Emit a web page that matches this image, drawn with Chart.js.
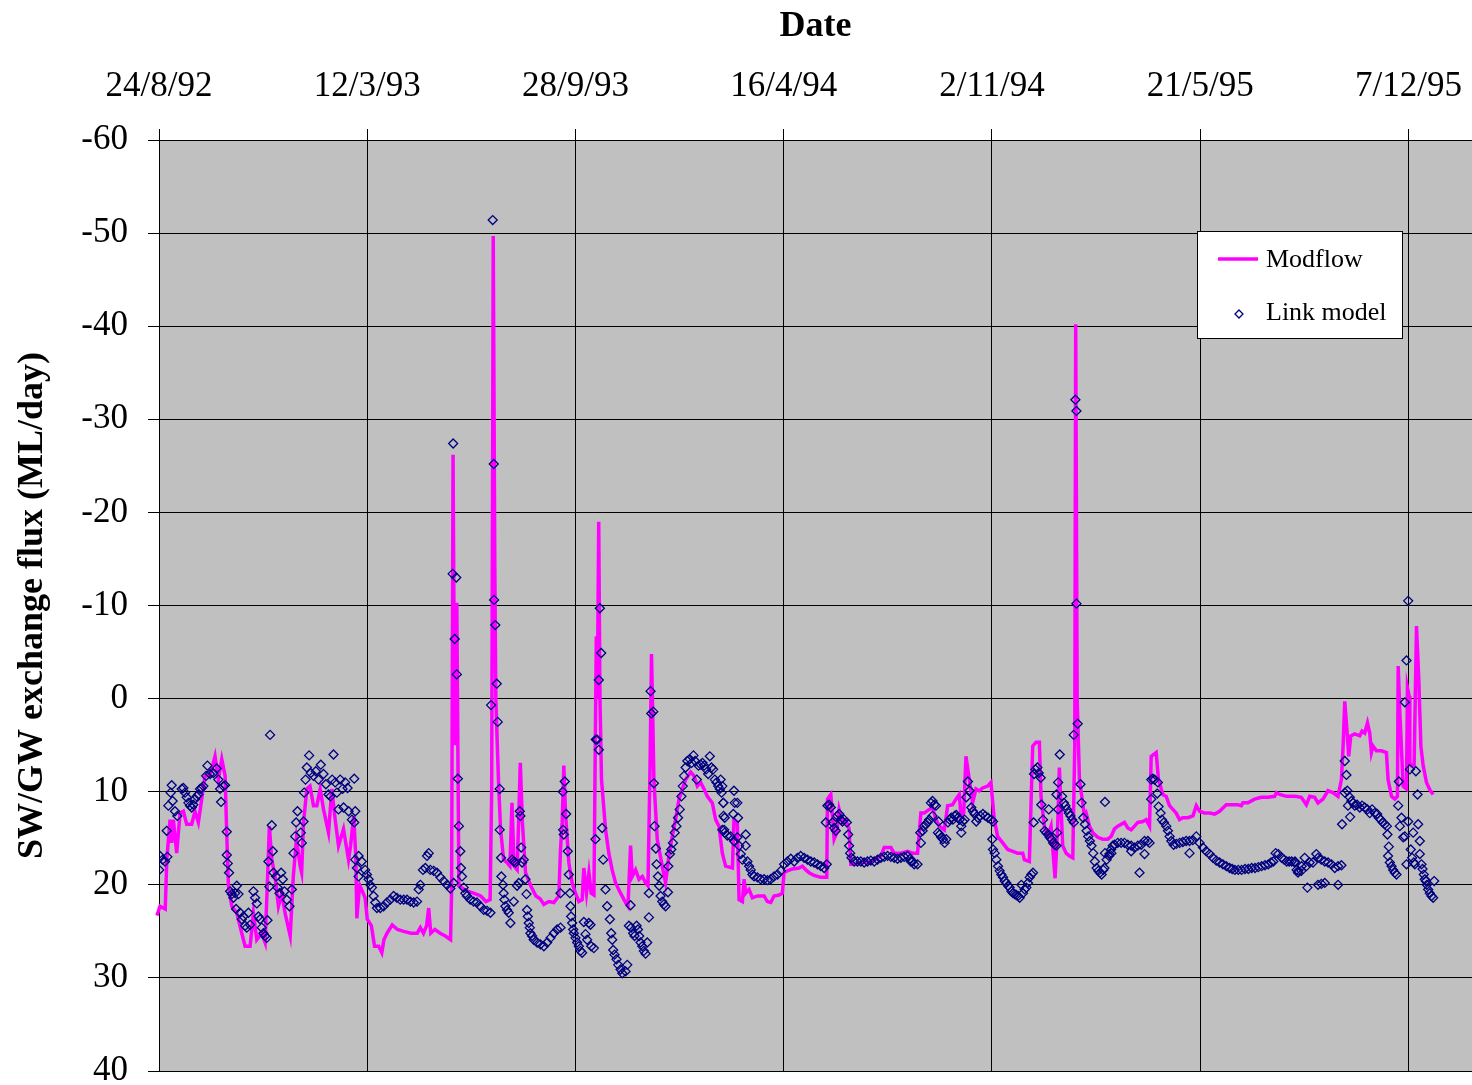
<!DOCTYPE html>
<html>
<head>
<meta charset="utf-8">
<title>SW/GW exchange flux</title>
<script src="https://cdn.jsdelivr.net/npm/chart.js@4.4.1/dist/chart.umd.min.js"></script>
<style>
  html, body { margin: 0; padding: 0; background: #fff; overflow: hidden; }
  #wrap { width: 1520px; height: 1120px; }
</style>
</head>
<body>
<div id="wrap"><canvas id="flux-chart" width="1520" height="1120"></canvas></div>
<script>
// x values are days counted from 24/8/92, y values are ML/day (positive = down on the axis)
const xTickDays = [0, 200, 400, 600, 800, 1000, 1200];
const xTickLabels = ['24/8/92', '12/3/93', '28/9/93', '16/4/94', '2/11/94', '21/5/95', '7/12/95'];
const xMaxDay = 1261;
const yMin = -60, yMax = 40, yStep = 10;

// Modflow: [day, flux]
const modflow = [
  [-5, 23.0], [-4, 24.3], [-2, 23.3], [1, 22.3], [6, 22.6], [7.5, 17.3], [10.6, 13], [12.2, 15.5], [13.8, 13],
  [17, 16.6], [20.2, 12.3], [23.4, 12.1], [26.6, 13.5], [31.4, 13.5], [34.6, 12.1], [37.8, 13.3], [41, 10.8],
  [44.2, 8.3], [49, 8.3], [53.8, 6.2], [57, 8.7], [60.3, 6.5], [63.5, 8.3], [65, 14.4], [66.7, 20.1], [69.9, 22.3],
  [74.7, 23], [79.5, 25.2], [82.7, 26.6], [87.5, 26.6], [90.7, 23], [93.9, 25.9], [98.7, 25.2], [101.9, 26.2],
  [104, 20.1], [106, 13.7], [108.3, 17.3], [111.5, 19.1], [114.7, 22.3], [117.9, 20.9], [121, 23], [126, 25.5],
  [129, 19.1], [132, 15.1], [135.6, 18], [137, 18.7], [138.8, 13.3], [142, 9.7], [145, 9.4], [148.4, 11.5],
  [151.6, 11.5], [154.8, 9.7], [158, 11.9], [162.8, 14.4], [166, 9.7], [169.2, 13], [172.4, 15.8], [177.2, 14],
  [182, 17.3], [184, 15.8], [187, 12.6], [189, 16.9], [190, 23.6], [192, 20.9], [193, 20.1], [198, 21.4],
  [200, 23.7], [204, 24.4], [207, 26.6], [211, 26.6], [214, 27.3], [216, 25.9], [219, 25.2], [224, 24.3],
  [229, 24.8], [235, 25], [242, 25.2], [248, 25.2], [251, 24.6], [254, 25.2], [257, 24.4], [259, 22.5],
  [261, 25.2], [265, 24.8], [270, 25.2], [275, 25.5], [280, 25.9], [281, 20.9], [282.4, -26.2], [284, 5],
  [286, -10.3], [288, 20.1], [293, 20.5], [297, 20.7], [302, 20.9], [309, 21.2], [314, 21.8], [318, 21.6],
  [319.5, 10], [321, -49.7], [322.5, -14.2], [323.5, 0], [326, 8.7], [328, 14], [331, 17.3], [334, 17.6],
  [337, 18], [339, 11.2], [341, 18], [344, 18.4], [347, 6.9], [349, 13.3], [352, 18.7], [357, 20.1],
  [362, 21.2], [366, 21.5], [369.6, 22.1], [374.4, 21.8], [379.2, 21.9], [384, 21.2], [385.6, 16.2],
  [387.2, 13.3], [388.8, 7.2], [390.4, 12.3], [393.6, 17.6], [396.8, 19.8], [400, 20.9], [403.2, 21.8],
  [406.4, 21.6], [408, 18.2], [410.6, 20.9], [412.9, 18.7], [415.1, 20.9], [417.7, 21.1], [418.6, 10],
  [420, -6.7], [421, 0], [422.3, -19], [423.5, 0], [425, 8.7], [428.8, 14], [432, 16.6], [435.2, 18.4],
  [438.5, 19.8], [443.3, 20.9], [448.1, 21.9], [450.4, 22.3], [452.9, 15.8], [454.5, 19.1], [457.7, 18.4],
  [461, 19.4], [464.2, 19.1], [467.4, 19.8], [469.6, 20.1], [471.5, 8], [473, -4.8], [474.2, 2], [475.3, 8.7],
  [478.5, 15.1], [483.3, 18], [486.5, 19.8], [489.7, 16.9], [492.9, 14.8], [496.1, 13], [499.4, 10.8],
  [502.6, 9.7], [505.8, 8.7], [510.6, 7.9], [513.8, 8.3], [517, 9.4], [520.2, 9], [523.4, 9.7], [526.6, 10.5],
  [531.4, 11.2], [534.6, 13], [537.8, 13.7], [541, 16.6], [544.2, 18], [550.7, 18.2], [552.2, 13],
  [555.4, 13.3], [557.1, 21.6], [560.3, 21.8], [561.9, 19.4], [563.5, 20.9], [566.7, 20.5], [569.9, 21.4],
  [574.7, 21.2], [581.1, 21.2], [584.3, 21.8], [587.5, 21.9], [590.7, 21.2], [595.5, 21.1], [598.7, 20.9],
  [600.3, 18.7], [603.5, 18.5], [608.3, 18.3], [614.7, 18.2], [617.9, 18], [621.2, 18.4], [624.4, 18.7],
  [629.2, 19], [635.6, 19.2], [641.3, 19.2], [642, 10.8], [645.2, 10.3], [648.4, 15.1], [651, 14.4],
  [653.2, 11.9], [656.4, 13.3], [659.6, 13], [662.8, 14], [664.4, 17.8], [667.6, 17.8], [674, 17.6],
  [683.7, 17.5], [693.3, 16.9], [696.5, 16], [702.9, 16], [706.1, 16.6], [712.5, 16.6], [718.9, 16.4],
  [723.7, 16.6], [728.5, 16.6], [731.7, 12.3], [734.9, 12.3], [739.7, 11.9], [742.9, 11.7], [746.2, 13],
  [749.4, 13.7], [754.2, 14.1], [757.4, 11.5], [762.2, 11.4], [765.4, 10.8], [768.6, 10.3], [770.2, 12.6],
  [772.8, 12.3], [775, 6.2], [778.2, 8.7], [781.4, 11.2], [784.6, 9.7], [787.8, 9.9], [791, 9.6],
  [795.8, 9.4], [799, 9], [802.2, 13], [805.4, 14.8], [810.3, 15.5], [815.1, 16.2], [819.9, 16.4],
  [824.7, 16.6], [829.5, 16.6], [831.1, 17.3], [835.9, 17.5], [839.1, 5.1], [842.3, 4.7], [845.5, 4.7],
  [847.1, 10.5], [850.3, 13.7], [853.5, 14.8], [856.7, 13.7], [860.6, 19.3], [863.1, 13.7], [864.7, 7.4],
  [867.9, 15.8], [871.2, 16.6], [874.4, 16.9], [877.6, 17.1], [879.5, 5], [880.4, -40.2], [881.8, 0],
  [884, 8.7], [888.8, 12.6], [890.4, 12.3], [893.6, 13.7], [896.8, 14.4], [901.6, 14.9], [906.4, 15.1],
  [911.2, 15.1], [914.4, 14.8], [917.6, 14], [920.8, 13.7], [927.2, 13.3], [930.4, 13.9], [933.7, 14.1],
  [936.9, 13.7], [940.1, 13.3], [944.9, 13.2], [948.1, 13], [951.3, 13.7], [952.9, 6.2], [957.7, 5.8],
  [959.9, 8.7], [964.1, 10.3], [967.3, 10.5], [970.5, 11.5], [973.7, 11.9], [976.9, 12.3], [980.1, 13],
  [983.3, 12.8], [988.1, 12.8], [993, 12.6], [996.2, 11.5], [999.4, 12.1], [1004.2, 12.3], [1009, 12.3],
  [1013.8, 12.4], [1018.6, 12.1], [1025, 11.4], [1029.8, 11.4], [1036.2, 11.4], [1039.4, 11.5], [1041, 11.2],
  [1045.8, 11.2], [1052.2, 10.8], [1058.7, 10.6], [1065.1, 10.6], [1071.5, 10.5], [1073.1, 10.1],
  [1076.3, 10.3], [1082.7, 10.5], [1090.7, 10.5], [1097.1, 10.6], [1101.9, 11.4], [1105.1, 10.5],
  [1109.9, 10.6], [1113.1, 11.2], [1117.9, 10.8], [1122.7, 9.9], [1127.5, 10.1], [1132.3, 10.5],
  [1135.6, 8.7], [1137.2, 5.1], [1138.8, 0.3], [1141.3, 4], [1142.6, 6.2], [1144.6, 4], [1148.4, 3.8],
  [1153.2, 4], [1155.4, 3.5], [1158, 3.7], [1160.6, 2.6], [1162.8, 3.7], [1164.4, 5.8], [1166, 5.1],
  [1169.2, 5.6], [1174, 5.6], [1178.8, 5.8], [1180.4, 8.7], [1183.7, 10.5], [1186.9, 10.8], [1189.4, 10.5],
  [1190.1, -3.5], [1191.7, 1.5], [1194.9, 9.4], [1198.1, 9.7], [1199, -1.2], [1200.6, -0.3], [1201.3, 6.9],
  [1202.9, 7.2], [1205.4, 7.2], [1207.7, -7.8], [1209.9, -2.1], [1211.9, 5.1], [1214.1, 7.2], [1217.3, 9],
  [1220.5, 9.8], [1223.7, 10.3]
];

// Link model: [day, flux]
const linkModel = [
  [0.3, 18.4], [1, 16.9], [3.5, 17.3], [5.8, 17.5], [8, 17], [7.4, 14.2], [9, 11.5], [11.2, 10.1], [12.2, 9.3],
  [13.1, 11], [15.4, 12.1], [17.6, 12.6], [21.8, 9.7], [23.4, 9.6], [25, 10.1], [26.6, 10.6], [28.2, 11.2],
  [29.8, 11.5], [31.4, 11.7], [33, 11.4], [34.6, 10.8], [36.2, 10.5], [37.8, 10.3], [39.4, 9.7], [41, 9.6],
  [42.6, 9.4], [45.2, 8.3], [46.5, 7.2], [49, 8.1], [52.2, 8], [55.4, 7.5], [57, 8.7], [58.7, 9.7], [59.6, 11.1],
  [61.9, 9.4], [63.5, 9.3], [65.1, 14.3], [65.1, 16.8], [66, 17.7], [67.3, 18.7], [68.3, 20.7], [69.9, 21],
  [71.5, 21.4], [73.1, 20.9], [74.7, 20.1], [76.3, 21], [74, 22.6], [77.9, 23], [79.5, 23.7], [81.1, 23.4],
  [82.7, 24.4], [84.3, 24.6], [85.9, 23], [87.5, 24.3], [90.7, 20.7], [92.3, 21.4], [93.9, 22], [95.5, 23.4],
  [97.1, 23.7], [98.7, 24.6], [100.3, 25.2], [101.9, 25.5], [103.5, 25.7], [104.2, 23.8], [105.1, 17.5],
  [106.7, 3.9], [106, 20.2], [108.3, 13.6], [109.3, 16.4], [109.9, 18.7], [112.5, 19.1], [113.8, 20.3],
  [115.7, 20.9], [117.3, 18.7], [118.9, 19.4], [120.5, 20.7], [122.8, 21.6], [125.3, 22.3], [127.6, 20.5],
  [129.2, 16.6], [130.8, 14.8], [131.7, 13.3], [133, 12.1], [136.2, 14.4], [137.2, 15.5], [138.8, 13.2],
  [139.4, 10.1], [140.7, 8.7], [142, 7.4], [144.2, 6.1], [145.8, 8], [148.4, 8.3], [150.6, 7.8], [153.2, 8.7],
  [155.4, 7.1], [158, 8.1], [160.3, 9.2], [162.8, 10.3], [164.7, 10.5], [166.3, 8.7], [167.6, 6], [169.2, 9],
  [170.8, 10.1], [172.4, 11.9], [174, 8.7], [176.3, 9.7], [178.8, 9], [181.1, 9.6],
  [177.3, 11.7], [182.1, 12.1], [185.3, 13], [187.5, 8.6], [187.5, 13.3], [188.5, 12.1], [188.5, 17.3],
  [190.1, 18.2], [191.7, 16.9], [191.7, 19.1], [194.8, 17.5], [198, 18.4], [199.7, 18.9], [201.3, 19.4],
  [202.9, 20], [204.5, 20.3], [206.1, 21.2], [207.7, 21.9], [209.3, 22.5], [212.5, 22.5], [215.7, 22.3],
  [218.9, 21.9], [222.1, 21.6], [225.3, 21.2], [228.5, 21.4], [231.7, 21.6], [235, 21.6], [238.2, 21.6],
  [241.4, 21.8], [244.6, 21.9], [247.8, 21.8], [249.4, 20.5], [251, 20], [253.5, 18.4], [255.8, 18.2],
  [257.4, 16.9], [259, 16.6], [260.6, 18.4], [263.8, 18.5], [267, 18.7], [270.2, 19.2], [273.4, 19.6],
  [276.6, 20], [279.8, 20.4], [283, 19.8], [282, -13.4], [282.5, -27.4], [284, -6.4], [285.5, -13],
  [286, -2.6], [287, 8.6], [288, 13.7], [289.4, 16.4], [290, 18.2], [291, 19.1], [292.6, 20.3], [294.2, 20.9],
  [295.8, 21.2], [299, 21.6], [302.2, 21.8], [305.4, 21.9], [308.7, 22.3], [311.9, 22.7], [315.1, 22.8],
  [318.3, 23], [318.9, 0.7], [320.5, -51.4], [321.5, -25.2], [321.8, -10.6], [323, -7.9], [324.4, -1.6],
  [325.3, 2.5], [327.2, 9.7], [327.2, 14.1], [328.5, 17.1], [328.8, 19.1], [330.4, 20], [331, 20.9],
  [331.7, 21.6], [332.7, 22.3], [334.3, 22.7], [335.9, 23], [337.5, 24.1], [339.1, 17.3], [340.7, 17.5],
  [342.3, 17.6], [340.7, 21.8], [343.9, 20.1], [345.5, 19.8], [346.5, 12.1], [347.1, 12.6], [347.8, 16],
  [348.7, 17.6], [350.3, 17.3], [351.9, 19.4], [352.9, 21], [353.5, 22.7], [354.2, 23.4], [355.1, 24.1],
  [356.1, 24.6], [356.7, 25.2], [358.3, 25.5], [359.9, 25.9], [363.1, 26.2], [366.3, 26.4],
  [369.6, 26.6], [372.8, 26.2], [376, 25.7], [379.2, 25.2], [382.4, 24.8], [385.6, 24.6], [385.6, 20.9],
  [387.8, 10], [388.1, 14.1], [388.8, 14.6], [389.7, 8.9], [391, 12.4], [392.6, 16.4], [393.6, 18.9],
  [394.6, 20.9], [395.2, 22.3], [395.8, 23.4], [396.8, 24.1], [397.8, 24.8], [398.4, 25.2], [400, 25.7],
  [401.6, 26.2], [403.2, 26.6], [404.8, 27.1], [406.4, 27.3], [408, 24], [409.6, 25.3], [411.2, 25.9],
  [412.8, 24.1], [414.4, 24.3], [415.1, 26.6], [417.6, 26.8], [419.2, 15.1], [419.5, 4.4], [420.8, 4.4],
  [422.4, -2], [423.4, -9.7], [424.7, -4.9], [422.4, 5.5], [425.6, 13.9], [426.6, 17.3], [428.8, 20.5],
  [430.4, 22.3], [433, 23.7], [434.3, 25.2], [435.3, 25.9], [436.2, 27], [437.5, 27.5], [439.4, 28],
  [441, 28.6], [443.3, 29.1], [444.9, 29.5], [448.1, 29.3], [449.7, 28.6], [452.9, 22.2], [451.3, 24.4],
  [453.5, 24.6], [455.4, 25.2], [456.7, 25.5], [458.7, 24.4], [460, 24.8], [461.2, 25.5], [462.5, 26.2],
  [464.1, 26.6], [465.7, 27.1], [467.3, 27.4], [468.9, 26.2], [470.5, 23.5], [470.5, 20.9], [472.1, -0.8],
  [472.8, 1.6], [474.7, 1.4], [475.3, 9.1], [475.9, 13.7], [477.2, 16.1], [477.9, 17.8], [479.2, 19.1],
  [480.4, 20.1], [481.7, 21.2], [483.3, 21.8], [484.9, 22.1], [486.5, 22.3], [488.8, 20.8], [489.1, 18],
  [490.7, 16.7], [492, 16.2], [493.6, 15.5], [495.3, 14.4], [496.9, 13.7], [498.5, 12.8], [500.1, 11.9],
  [501.7, 10.5], [503, 9.4], [504.2, 8.3], [505.8, 7.4], [507.4, 6.7], [509.7, 6.5], [511.6, 6.9],
  [513.3, 6.1], [514.9, 6.7], [516.5, 8.7], [518.1, 7.2], [520.3, 7.1], [521.9, 6.9], [523.6, 7.2],
  [525.5, 7.6], [527.4, 8.1], [529, 6.2], [530.6, 7.4], [532.2, 7.6], [533.8, 8.7], [535.4, 9], [537, 9.4],
  [538.6, 9.7], [540.3, 10.1], [541.9, 11.2], [542.2, 12.6], [542.8, 14.1],
  [539.4, 8.7], [541, 9.4], [542, 11.2], [543.3, 12.8], [552.2, 9.9], [552.9, 11.2], [555.4, 11.2],
  [551.6, 12.4], [556.1, 12.8], [563.5, 14.6], [541, 14.1], [543.3, 14.4], [545.8, 14.7], [549, 14.8],
  [552.2, 15.3], [555.4, 14.9], [557.1, 15.8], [558.7, 16.7], [560.3, 17.3], [563.5, 15.8], [565.1, 17.5],
  [566.7, 18], [568.3, 18.4], [569.9, 18.9], [571.5, 19.1], [574.7, 19.2], [577.9, 19.4], [581.1, 19.4],
  [584.3, 19.5], [587.5, 19.4], [590.7, 19.1], [594, 18.9], [597.2, 18.5], [600.4, 17.8], [603.6, 17.5],
  [606.8, 17.2], [610, 17.5], [613.2, 17.1], [616.3, 16.9], [619.6, 17.1], [622.8, 17.3], [626, 17.5],
  [629.2, 17.6], [632.4, 17.8], [635.6, 18], [638.8, 18.2], [641.3, 17.8], [640.4, 13.3], [642, 11.5],
  [643.6, 11.4], [645.2, 11.7], [646.8, 13.3], [648.4, 13.9], [650, 14.2], [651.6, 12.6], [653.2, 12.4],
  [654.8, 13], [656.4, 13.2], [658, 13], [660.6, 13.3], [661.9, 14.6], [662.8, 15.8], [663.8, 16.6],
  [665.1, 17.1], [667.6, 17.5], [670.8, 17.5], [674, 17.5], [677.2, 17.6], [680.4, 17.5], [683.6, 17.4],
  [686.9, 17.5], [690.1, 17.3], [693.3, 17.1], [696.5, 17], [699.7, 16.9], [702.9, 17], [706.1, 17.1],
  [709.3, 17.2], [712.5, 17.1], [715.7, 17], [718.9, 16.9], [721.3, 17.2], [723.7, 17.5], [728.5, 17.8],
  [722.1, 17.5], [725.3, 17.8], [731.7, 15.5], [731.1, 14.4], [733.4, 14.2], [734.9, 13.7], [736.5, 13.5],
  [738.1, 13.3], [739.7, 13], [741.3, 11.2], [742.9, 11], [744.6, 11.4], [746.2, 11.5], [742.9, 12.6],
  [748.7, 13.2], [748.1, 14.4], [749.7, 14.6], [751.3, 14.9], [752.9, 15.1], [754.5, 15.5], [756.1, 15.1],
  [757.7, 13.3], [759.3, 13], [760.9, 12.8], [762.5, 13], [764.1, 12.6], [765.7, 12.5], [767.3, 12.8],
  [768.9, 13], [770.5, 13.7], [770.5, 14.4], [772.1, 13.2], [773.7, 13], [775.3, 10.6], [776.9, 8.9],
  [778.5, 9.9], [780.1, 11.7], [781.7, 12.1], [783.3, 12.4], [784.9, 13.2], [786.5, 12.8], [788.7, 12.6],
  [791.3, 12.4], [793.6, 12.6], [796.2, 12.8], [799.4, 13], [801, 13.2], [800.3, 15.1], [801, 16.2],
  [802.6, 16.6], [804.2, 17.3], [805.8, 18], [807.4, 18.5], [809, 18.9], [810.6, 19.2], [812.2, 19.6],
  [813.8, 19.8], [815.4, 20.1], [817, 20.3], [818.6, 20.7], [820.2, 20.9], [821.8, 21], [823.4, 21.1],
  [825, 21.2], [826.6, 21.4], [828.2, 20], [829.8, 20.9], [831.4, 20.5], [833, 20.3], [834.6, 19.8],
  [836.2, 19.2], [837.8, 18.9], [839.4, 18.7], [840, 13.3], [840.4, 8.1], [841.7, 7.6], [843.6, 7.4],
  [844.9, 8], [846.8, 8.5], [847.4, 11.4], [849, 13], [850.6, 14.2], [852.2, 14.4], [853.8, 14.6],
  [855.4, 14.9], [857.1, 15.1], [858.7, 15.5], [860.3, 15.7], [861.9, 15.8], [854.5, 11.9], [862.5, 14.4],
  [863.5, 11.9], [861.9, 10.3], [863.5, 9], [865.1, 6], [867.3, 10.5], [869, 11.2], [870.5, 11.5],
  [872.1, 11.9], [873.7, 12.3], [875.4, 12.6], [877, 13], [878.6, 13.3], [878.5, 3.9], [880.1, -32.1],
  [881.1, -30.9], [881.1, -10.2], [882.3, 2.7], [885, 9.2], [886, 11.2], [887.6, 12.8], [889.2, 13.5],
  [890.8, 14.2], [892.4, 14.8], [894, 15.3], [895.6, 15.8], [897.2, 16.6], [898.8, 17.5], [900.5, 18.2],
  [902.1, 18.5], [903.7, 18.7], [905.3, 18.9], [906.9, 18.4], [908.5, 16.6], [908.5, 11.1], [910.1, 17.3],
  [912.3, 16.9], [914.7, 16.6],
  [908, 18.2], [912.8, 16.7], [914.4, 16.2], [916, 15.8], [917.6, 15.7], [920.8, 15.5], [924, 15.5],
  [927.2, 15.5], [930.4, 15.7], [933.7, 15.8], [936.9, 16], [940.1, 15.8], [943.3, 15.7], [946.5, 15.3],
  [949.7, 15.3], [951.3, 15.5], [946.5, 16.7], [933.7, 16.4], [941.7, 18.7], [952.9, 8.7], [954.5, 8.6],
  [956.1, 8.7], [959.3, 9], [952.9, 10.8], [958.7, 10.2], [960, 11.6], [961.9, 12.3], [963.2, 13],
  [965.1, 13.3], [967.4, 13.7], [969, 14.2], [970.6, 14.8], [972.2, 15.3], [974.4, 15.7], [977, 15.6],
  [980.2, 15.5], [983.3, 15.4], [986.5, 15.3], [989.7, 15.3], [992.9, 15.2], [996.2, 14.8], [989.7, 16.6],
  [999.4, 15.5], [1002.6, 16], [1005.8, 16.4], [1009, 16.7], [1012.2, 17.1], [1015.4, 17.4], [1018.6, 17.6],
  [1021.8, 17.8], [1025, 18], [1028.2, 18.2], [1030.7, 18.3], [1033.3, 18.4], [1036.5, 18.4], [1039.7, 18.4],
  [1043, 18.3], [1046.2, 18.3], [1049.4, 18.2], [1052.6, 18.2], [1055.8, 18.1], [1059, 18], [1062.2, 17.9],
  [1065.4, 17.8], [1068, 17.6], [1070.2, 17.5], [1072.4, 16.6], [1075, 16.7], [1078.2, 17.1], [1080.6, 17.3],
  [1083, 17.5], [1085.4, 17.5], [1087.8, 17.5], [1091, 17.5], [1092.6, 18.4], [1094.2, 18.5], [1097.4, 18],
  [1090.7, 17.6], [1093.9, 18.7], [1097.1, 18.5], [1100.3, 17.1], [1101.9, 18], [1105.1, 17.6],
  [1108.3, 17.6], [1111.5, 16.7], [1113.1, 17.1], [1116.3, 17.3], [1119.6, 17.5], [1122.8, 17.6],
  [1126, 17.8], [1129.2, 18.2], [1132.4, 18], [1135.6, 17.9], [1102.9, 20.3], [1113.1, 20], [1116.3, 19.9],
  [1119.6, 19.8], [1132.4, 20], [1136.2, 13.5], [1138.8, 6.7], [1140.4, 8.2], [1138.8, 10.1], [1141.3, 9.9],
  [1143.6, 10.6], [1145.2, 11], [1146.8, 11.2], [1148.4, 11.5], [1150.6, 11.4], [1153.2, 11.7],
  [1155.4, 11.5], [1158, 11.7], [1160.6, 11.9], [1162.8, 12.3], [1165.1, 11.9], [1167.6, 12.3],
  [1169.9, 12.4], [1171.5, 12.8], [1173.4, 13], [1175.3, 13.3], [1177.2, 13.5], [1179.2, 13.7],
  [1141.9, 11.5], [1143.9, 12.7], [1179.8, 14.6], [1181.1, 15.9], [1180.4, 16.9], [1182.1, 17.6],
  [1183.7, 18], [1185.3, 18.4], [1186.9, 18.7], [1188.5, 18.9], [1190.1, 11.5], [1190.8, 8.9],
  [1191.7, 13.7], [1193.3, 12.8], [1194.9, 14.9], [1196.5, 14.8], [1198.1, 17.8], [1198.1, -4.1],
  [1196.5, 0.4], [1199.7, -10.5], [1199.7, 13.2], [1201.3, 7.6], [1202.2, 16.2], [1203.5, 17.1],
  [1204.5, 14.4], [1205.1, 17.6], [1206.1, 17.8], [1207.1, 7.8], [1208.7, 10.3], [1209.3, 13.5],
  [1210.9, 15.3], [1210.9, 16.7], [1212.5, 17.8], [1213.5, 18.3], [1214.7, 18.9], [1215.7, 19.4],
  [1216.7, 19.6], [1217.6, 20], [1218.9, 20.5], [1220.5, 20.9], [1222.1, 21.2], [1223.7, 21.4],
  [1224.7, 19.6]
];

const MAGENTA = '#ff00ff';
const NAVY = '#000080';
const SERIF = "'Liberation Serif', 'Times New Roman', Times, serif";

// grey plot area like the Excel original
const plotBackground = {
  id: 'plotBackground',
  beforeDraw(chart) {
    const { ctx, chartArea: a } = chart;
    ctx.save();
    ctx.fillStyle = '#c0c0c0';
    ctx.fillRect(a.left, a.top, a.right - a.left, a.bottom - a.top);
    ctx.restore();
  }
};

// boxed legend sitting inside the plot, upper right
const boxLegend = {
  id: 'boxLegend',
  afterDraw(chart) {
    const ctx = chart.ctx;
    const sets = chart.data.datasets;
    ctx.save();
    ctx.fillStyle = '#fff';
    ctx.strokeStyle = '#000';
    ctx.lineWidth = 1;
    ctx.fillRect(1197, 231, 205, 107);
    ctx.strokeRect(1197.5, 231.5, 205, 107);

    ctx.font = '26px ' + SERIF;
    ctx.fillStyle = '#000';
    ctx.textBaseline = 'middle';

    // Modflow
    ctx.strokeStyle = sets[1].borderColor;
    ctx.lineWidth = 3.5;
    ctx.beginPath();
    ctx.moveTo(1218, 259);
    ctx.lineTo(1258, 259);
    ctx.stroke();
    ctx.fillText(sets[1].label, 1266, 260);

    // Link model
    ctx.strokeStyle = sets[0].borderColor;
    ctx.lineWidth = 1.3;
    const cx = 1239, cy = 314, r = 4;
    ctx.beginPath();
    ctx.moveTo(cx, cy - r);
    ctx.lineTo(cx + r, cy);
    ctx.lineTo(cx, cy + r);
    ctx.lineTo(cx - r, cy);
    ctx.closePath();
    ctx.stroke();
    ctx.fillText(sets[0].label, 1266, 313);
    ctx.restore();
  }
};

const toPoints = rows => rows.map(r => ({ x: r[0], y: r[1] }));

const ctx = document.getElementById('flux-chart').getContext('2d');
new Chart(ctx, {
  type: 'scatter',
  data: {
    datasets: [
      {
        label: 'Link model',
        data: toPoints(linkModel),
        showLine: false,
        pointStyle: 'rectRot',
        pointRadius: 4.5,
        pointBorderWidth: 1.3,
        borderColor: NAVY,
        backgroundColor: 'rgba(0,0,0,0)',
        order: 0
      },
      {
        label: 'Modflow',
        data: toPoints(modflow),
        showLine: true,
        borderColor: MAGENTA,
        backgroundColor: MAGENTA,
        borderWidth: 3.5,
        pointRadius: 0,
        tension: 0,
        clip: { left: 8, top: 0, right: 0, bottom: 0 },
        order: 1
      }
    ]
  },
  options: {
    responsive: false,
    animation: false,
    events: [],
    // the canvas is a bit larger than the window so the plot runs off the right and bottom edges
    layout: { padding: { left: 0, right: 48, top: 0, bottom: 49 } },
    plugins: {
      legend: { display: false },
      tooltip: { enabled: false }
    },
    scales: {
      x: {
        type: 'linear',
        position: 'top',
        min: 0,
        max: xMaxDay,
        afterBuildTicks: scale => { scale.ticks = xTickDays.map(v => ({ value: v })); },
        afterFit: scale => { scale.height = 140; },
        ticks: {
          autoSkip: false,
          maxRotation: 0,
          padding: 21,
          color: '#000',
          font: { family: SERIF, size: 35 },
          callback: value => xTickLabels[xTickDays.indexOf(value)]
        },
        grid: { color: '#000', lineWidth: 1, tickLength: 11, tickColor: '#000' },
        border: { display: true, color: '#000', width: 1 },
        title: {
          display: true,
          text: 'Date',
          color: '#000',
          padding: { top: 5, bottom: 0 },
          font: { family: SERIF, size: 36, weight: 'bold' }
        }
      },
      y: {
        type: 'linear',
        min: yMin,
        max: yMax,
        reverse: true,
        afterFit: scale => { scale.width = 159; },
        ticks: {
          stepSize: yStep,
          padding: 20,
          color: '#000',
          font: { family: SERIF, size: 35 }
        },
        grid: { color: '#000', lineWidth: 1, tickLength: 11, tickColor: '#000' },
        border: { display: true, color: '#000', width: 1 },
        title: {
          display: true,
          text: 'SW/GW exchange flux (ML/day)',
          color: '#000',
          padding: { top: 11, bottom: 0 },
          font: { family: SERIF, size: 36, weight: 'bold' }
        }
      }
    }
  },
  plugins: [plotBackground, boxLegend]
});
</script>
</body>
</html>
